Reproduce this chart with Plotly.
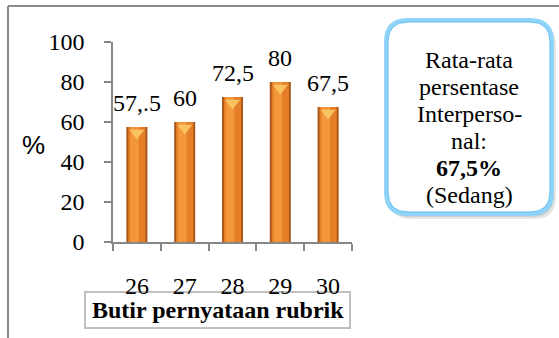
import plotly.graph_objects as go

categories = ["26", "27", "28", "29", "30"]
values = [57.5, 60, 72.5, 80, 67.5]
value_labels = ["57,.5", "60", "72,5", "80", "67,5"]
y_ticks = [0, 20, 40, 60, 80, 100]
box_lines = ["Rata-rata", "persentase", "Interperso-", "nal:", "<b>67,5%</b>", "(Sedang)"]
x_title = "Butir pernyataan rubrik"
y_title = "%"

W, H = 559, 338
L, R, T, B = 113, 352, 42, 242  # plot area in pixels


def px(x):
    return (x - L) / (R - L)


def py(y):
    return (B - y) / (B - T)


def rrect(x0, y0, x1, y1, r):
    pts = [
        f"M {px(x0 + r)} {py(y0)}",
        f"L {px(x1 - r)} {py(y0)}",
        f"Q {px(x1)} {py(y0)} {px(x1)} {py(y0 + r)}",
        f"L {px(x1)} {py(y1 - r)}",
        f"Q {px(x1)} {py(y1)} {px(x1 - r)} {py(y1)}",
        f"L {px(x0 + r)} {py(y1)}",
        f"Q {px(x0)} {py(y1)} {px(x0)} {py(y1 - r)}",
        f"L {px(x0)} {py(y0 + r)}",
        f"Q {px(x0)} {py(y0)} {px(x0 + r)} {py(y0)}",
        "Z",
    ]
    return " ".join(pts)


SERIF = "Liberation Serif"
SANS = "Liberation Sans"
FS = 24

fig = go.Figure()
fig.add_trace(go.Bar(x=categories, y=values, width=0.44,
                     marker=dict(color="#A9561A", line=dict(width=0)),
                     hoverinfo="skip"))
fig.add_trace(go.Bar(x=categories, y=values, width=0.36,
                     marker=dict(color="#E57F27", line=dict(width=0)),
                     hoverinfo="skip"))
fig.add_trace(go.Bar(x=categories, y=values, width=0.18, offset=-0.14,
                     marker=dict(color="#F4963A", line=dict(width=0)),
                     hoverinfo="skip"))
# pale bevel triangle at the top of each bar (drawn on a slightly shifted overlay axis)
fig.add_trace(go.Scatter(x=categories, y=values, yaxis="y2", mode="markers",
                         marker=dict(symbol="triangle-down", size=13, color="#F9C868",
                                     opacity=0.9, line=dict(width=0)),
                         hoverinfo="skip"))

annotations = []
for i, (v, t) in enumerate(zip(values, value_labels)):
    annotations.append(dict(x=i, y=v, xref="x", yref="y", text=t, showarrow=False,
                            yanchor="bottom", yshift=9,
                            font=dict(family=SERIF, size=FS, color="black")))

# y-axis title
annotations.append(dict(x=px(33), y=py(145), xref="paper", yref="paper", text=y_title,
                        showarrow=False, xanchor="center", yanchor="middle",
                        font=dict(family=SANS, size=26, color="black")))
# x title
annotations.append(dict(x=px(218), y=py(310), xref="paper", yref="paper", text="<b>" + x_title + "</b>",
                        showarrow=False, xanchor="center", yanchor="middle",
                        font=dict(family=SERIF, size=FS, color="black")))
# box text
centers = [60, 87, 114, 141, 168, 195]
for line, cy in zip(box_lines, centers):
    annotations.append(dict(x=px(469), y=py(cy), xref="paper", yref="paper", text=line,
                            showarrow=False, xanchor="center", yanchor="middle",
                            font=dict(family=SERIF, size=FS, color="black")))

shapes = [
    # outer frame
    dict(type="line", xref="paper", yref="paper", x0=px(8), y0=py(6), x1=px(W + 5), y1=py(6),
         line=dict(color="#8a8a8a", width=2), layer="below"),
    dict(type="line", xref="paper", yref="paper", x0=px(8), y0=py(6), x1=px(8), y1=py(H + 5),
         line=dict(color="#8a8a8a", width=2), layer="below"),
    # x title box
    dict(type="rect", xref="paper", yref="paper", x0=px(85), y0=py(292), x1=px(350), y1=py(328),
         line=dict(color="#c0c0c0", width=2), fillcolor="white", layer="below"),
    # info box shadow
    dict(type="path", xref="paper", yref="paper", path=rrect(389, 24, 556, 219, 22),
         fillcolor="rgba(0,0,0,0.10)", line=dict(width=0), layer="below"),
    dict(type="path", xref="paper", yref="paper", path=rrect(388, 22, 554, 217, 22),
         fillcolor="rgba(0,0,0,0.10)", line=dict(width=0), layer="below"),
    # info box
    dict(type="path", xref="paper", yref="paper", path=rrect(386, 20, 552, 214, 22),
         fillcolor="white", line=dict(color="#8FD4F8", width=4), layer="below"),
    dict(type="path", xref="paper", yref="paper", path=rrect(388, 22, 550, 212, 20),
         fillcolor="rgba(0,0,0,0)", line=dict(color="#62BBF0", width=1), layer="below"),
]

fig.update_layout(
    width=W, height=H,
    margin=dict(l=L, r=W - R, t=T, b=H - B, pad=0),
    paper_bgcolor="white", plot_bgcolor="white",
    barmode="overlay", showlegend=False,
    font=dict(family=SERIF, size=FS, color="black"),
    annotations=annotations, shapes=shapes,
    xaxis=dict(type="category", range=[-0.5, 4.5], showgrid=False, zeroline=False,
               showline=True, linecolor="#878787", linewidth=1.5,
               ticks="outside", tickson="boundaries", ticklen=7, tickcolor="#878787", tickwidth=1.5,
               ticklabelstandoff=21,
               tickfont=dict(family=SERIF, size=FS, color="black"), fixedrange=True),
    yaxis=dict(range=[0, 100], tickvals=y_ticks, showgrid=False, zeroline=False,
               showline=True, linecolor="#878787", linewidth=1.5,
               ticks="outside", ticklen=7, tickcolor="#878787", tickwidth=1.5,
               ticklabelstandoff=15,
               tickfont=dict(family=SERIF, size=FS, color="black"), fixedrange=True),
    yaxis2=dict(overlaying="y", range=[3, 103], visible=False, fixedrange=True),
)

fig.write_html("out.html", config={"displayModeBar": False})
